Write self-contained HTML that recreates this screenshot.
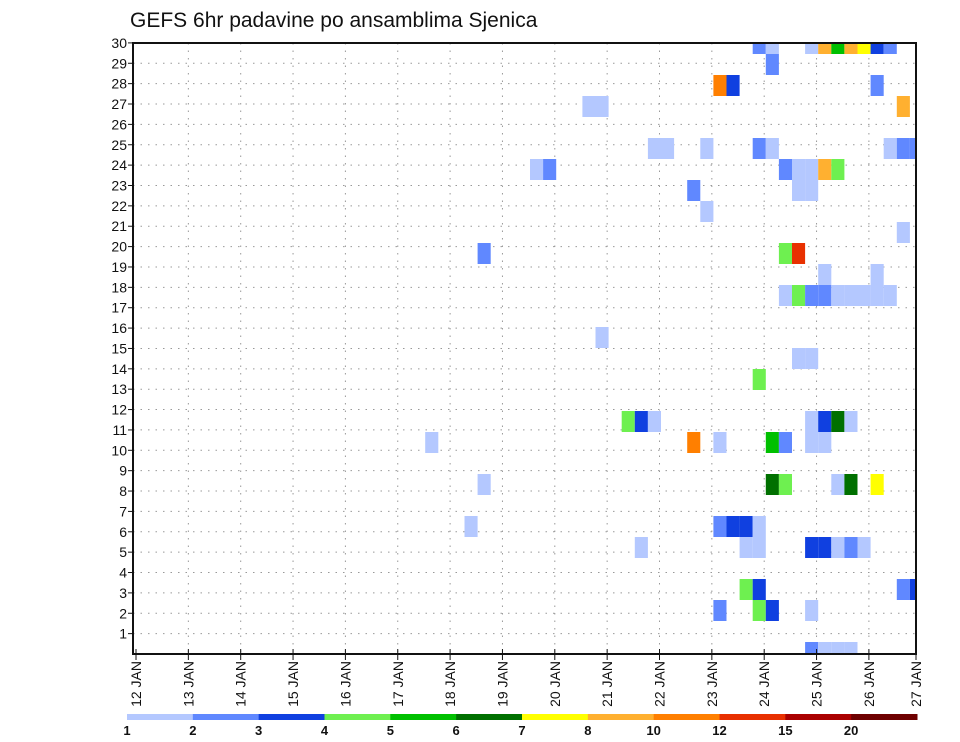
<!DOCTYPE html>
<html><head><meta charset="utf-8"><style>
html,body{margin:0;padding:0;background:#fff;}
svg{display:block;font-family:"Liberation Sans",sans-serif;}
</style></head><body>
<svg id="chart" width="960" height="742" viewBox="0 0 960 742" xmlns="http://www.w3.org/2000/svg">
<text x="130" y="27" font-size="21" fill="#111">GEFS 6hr padavine po ansamblima Sjenica</text>
<g id="grid"></g>
<g id="cells"></g>
<rect x="133" y="43" width="783" height="611" fill="none" stroke="#111" stroke-width="2"/>
<g id="yaxis"></g>
<g id="xaxis"></g>
<g id="legend"></g>
</svg>
<script>
// data: row index from top (0 = member 30 row), 6-hour step index from 12 JAN 00z, intensity level
const cellRows  = [0,0,0,0,0,0,0,0,0, 1, 2,2,2, 3,3,3, 5,5,5,5,5,5,5,5, 6,6,6,6,6,6,6, 7,7,7, 8, 9, 10,10,10, 11,11, 12,12,12,12,12,12,12,12,12, 14, 15,15, 16, 18,18,18,18,18,18,18, 19,19,19,19,19,19,19, 21,21,21,21,21,21, 23,23,23,23,23, 24,24,24,24,24,24,24,24, 26,26,26,26, 27,27,27,27, 29,29,29,29];
const cellSteps = [47,48,51,52,53,54,55,56,57, 48, 44,45,56, 34,35,58, 39,40,43,47,48,57,58,59, 30,31,49,50,51,52,53, 42,50,51, 43, 58, 26,49,50, 52,56, 49,50,51,52,53,54,55,56,57, 35, 50,51, 47, 37,38,39,51,52,53,54, 22,42,44,48,49,51,52, 26,48,49,53,54,56, 25,44,45,46,47, 38,46,47,51,52,53,54,55, 46,47,58,59, 44,47,48,51, 51,52,53,54];
const cellLevels= [2,1,1,8,5,8,7,3,2, 2, 10,3,2, 1,1,8, 1,1,1,2,1,1,2,2, 1,2,2,1,1,8,4, 2,1,1, 1, 1, 2,4,12, 1,1, 1,4,2,2,1,1,1,1,1, 1, 1,1, 4, 4,3,1,1,3,6,1, 1,10,1,5,2,1,1, 1,6,4,1,6,7, 1,2,3,3,1, 1,1,1,3,3,1,2,1, 4,3,2,3, 2,4,3,1, 2,1,1,1];
const levelLabels = ["1","2","3","4","5","6","7","8","10","12","15","20"];
const levelColors = ["#b4c8ff","#6088ff","#1040e0","#6ef050","#00c000","#007000","#ffff00","#ffb030","#ff7f00","#e83000","#aa0000","#6e0000"];
const levelValues = [1,2,3,4,5,6,7,8,10,12,15,20];
const yTicks = [1,2,3,4,5,6,7,8,9,10,11,12,13,14,15,16,17,18,19,20,21,22,23,24,25,26,27,28,29,30];
const xDays = [12,13,14,15,16,17,18,19,20,21,22,23,24,25,26,27];

const NS="http://www.w3.org/2000/svg";
function mk(tag,attrs,parent){const e=document.createElementNS(NS,tag);for(const k in attrs)e.setAttribute(k,attrs[k]);parent.appendChild(e);return e;}
const PL=133,PR=916,PT=43,PB=654;
const dayX=d=>136+(d-12)*52.35;
const stepX=k=>137+k*13.1;
const rowY=r=>33+r*21;
const tickY=v=>654-v*20.37;
const colorOf=v=>levelColors[levelValues.indexOf(v)];

const grid=document.getElementById('grid');
yTicks.forEach(v=>{
  if(v>=30)return;
  const l=mk('line',{x1:PL,x2:PR,y1:tickY(v),y2:tickY(v),stroke:'#999','stroke-width':1,'stroke-dasharray':'1.5,6'},grid);
  
  
});
xDays.forEach(d=>{
  if(d===12||dayX(d)>PR)return;
  const l=mk('line',{x1:dayX(d),x2:dayX(d),y1:PT,y2:PB,stroke:'#999','stroke-width':1,'stroke-dasharray':'1.5,6'},grid);
  
  
});

const cells=document.getElementById('cells');
for(let i=0;i<cellRows.length;i++){
  let x=stepX(cellSteps[i]),w=13.1,y=rowY(cellRows[i]),h=21;
  if(y<PT){h-=PT-y;y=PT;}
  if(y+h>PB)h=PB-y;
  if(x+w>PR)w=PR-x;
  if(h<=0||w<=0)continue;
  const r=mk('rect',{x:x,y:y,width:w,height:h,fill:colorOf(cellLevels[i])},cells);
  
  
}

const ya=document.getElementById('yaxis');
yTicks.forEach(v=>{
  const y=tickY(v);
  const t=mk('line',{x1:PL-5,x2:PL,y1:y,y2:y,stroke:'#111','stroke-width':1},ya);
  
  
  const tx=mk('text',{x:PL-6,y:y+5,'font-size':14,'text-anchor':'end',fill:'#111'},ya);
  tx.textContent=v;
  
  
});

const xa=document.getElementById('xaxis');
xDays.forEach(d=>{
  let x=dayX(d); if(x>PR)x=PR;
  const t=mk('line',{x1:x,x2:x,y1:PB-5,y2:PB+6,stroke:'#111','stroke-width':1},xa);
  
  
  const tx=mk('text',{x:0,y:0,'font-size':14,'text-anchor':'end',fill:'#111',transform:'translate('+(x+5)+','+(PB+7)+') rotate(-90)'},xa);
  tx.textContent=d+' JAN';
  
  
});

const lg=document.getElementById('legend');
const segW=(917-127)/levelColors.length;
levelColors.forEach((c,i)=>{
  const r=mk('rect',{x:127+i*segW,y:714,width:segW+0.5,height:6,fill:c},lg);
  
  
  const tx=mk('text',{x:127+i*segW,y:735,'font-size':13,'font-weight':'bold','text-anchor':'middle',fill:'#111'},lg);
  tx.textContent=levelLabels[i];
  
  
});
</script>
</body></html>
